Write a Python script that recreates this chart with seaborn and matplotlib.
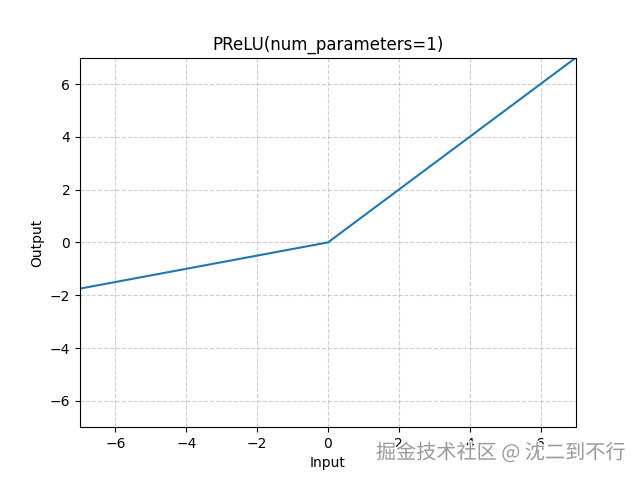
import matplotlib
matplotlib.use("Agg")
import matplotlib.pyplot as plt
import matplotlib.patheffects as pe
import seaborn as sns
import pandas as pd

# PReLU with the default single parameter (a = 0.25)
x_values = [-7.0, 0.0, 7.0]
y_values = [-1.75, 0.0, 7.0]
x_ticks = [-6, -4, -2, 0, 2, 4, 6]
y_ticks = [-6, -4, -2, 0, 2, 4, 6]

df = pd.DataFrame({'Input': x_values, 'Output': y_values})

fig, ax = plt.subplots(figsize=(6.4, 4.8), dpi=100)
sns.lineplot(x='Input', y='Output', data=df, ax=ax, color='#1f77b4', linewidth=1.5)
ax.set_title('PReLU(num_parameters=1)')
ax.set_xlabel('Input')
ax.set_ylabel('Output')
ax.set_xlim(-7, 7)
ax.set_ylim(-7, 7)
ax.set_xticks(x_ticks)
ax.set_yticks(y_ticks)
ax.grid(True, linestyle='--', alpha=0.6)

# watermark
fig.text(0.977, 0.056, '掘金技术社区 @ 沈二到不行', ha='right', va='center',
         fontsize=14.5, color='#9a9a9a',
         family=['Noto Sans CJK SC', 'DejaVu Sans'],
         path_effects=[pe.withStroke(linewidth=2, foreground='white')])

plt.savefig('out.png', dpi=100)
